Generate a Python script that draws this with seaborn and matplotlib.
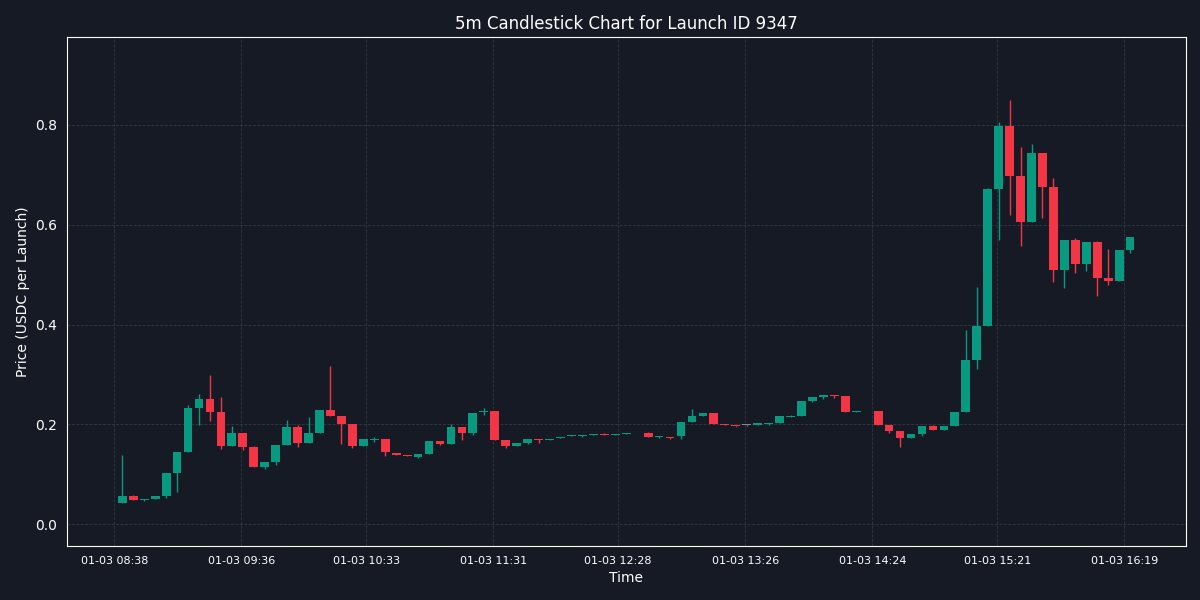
import numpy as np
import pandas as pd
import matplotlib
matplotlib.use("Agg")
import matplotlib.pyplot as plt
import matplotlib.dates as mdates
import seaborn as sns

slots = [i for i in range(93) if i not in (47, 68)]
opens = [.043,.056,.049,.051,.056,.103,.144,.232,.250,.225,.156,.182,.154,.115,.124,.158,.194,.162,.183,.228,
         .217,.200,.156,.168,.170,.143,.138,.135,.140,.166,.160,.195,.183,.224,.226,.168,.157,.163,.170,.168,
         .172,.177,.1760,.178,.181,.179,.180,.183,.175,.173,.176,.205,.216,.223,.200,.197,.198,.199,.200,.203,
         .214,.216,.246,.255,.259,.257,.225,.226,.198,.187,.173,.180,.196,.188,.196,.225,.329,.397,.672,.797,
         .698,.605,.744,.676,.509,.569,.522,.565,.494,.487,.549]
highs = [.138,.059,.050,.056,.103,.144,.238,.260,.299,.254,.196,.182,.157,.124,.158,.208,.198,.214,.228,.317,
         .217,.200,.170,.175,.170,.143,.138,.140,.166,.166,.200,.195,.223,.232,.226,.168,.163,.170,.170,.171,
         .175,.178,.178,.181,.182,.181,.182,.184,.176,.174,.205,.230,.223,.223,.200,.197,.199,.203,.203,.216,
         .218,.246,.255,.259,.259,.257,.226,.226,.198,.187,.180,.196,.198,.196,.225,.390,.475,.674,.807,.851,
         .755,.761,.744,.693,.569,.573,.565,.567,.551,.549,.576]
lows = [.043,.048,.046,.051,.053,.065,.144,.198,.207,.151,.156,.148,.115,.110,.119,.158,.155,.162,.183,.217,
        .161,.152,.156,.165,.136,.138,.136,.132,.140,.158,.160,.168,.178,.218,.168,.152,.157,.160,.162,.168,
        .172,.177,.174,.178,.179,.178,.180,.175,.172,.170,.170,.205,.216,.200,.199,.194,.197,.198,.199,.203,
        .214,.216,.244,.250,.253,.225,.224,.198,.183,.155,.173,.177,.188,.188,.196,.225,.311,.397,.569,.619,
        .558,.605,.613,.486,.473,.503,.508,.458,.480,.487,.543]
closes = [.056,.048,.050,.056,.103,.144,.232,.250,.225,.156,.182,.155,.115,.124,.158,.194,.162,.182,.228,.217,
          .200,.156,.170,.170,.144,.138,.136,.140,.166,.160,.195,.183,.223,.226,.168,.157,.163,.170,.168,.171,
          .175,.178,.1765,.181,.179,.180,.182,.175,.176,.172,.205,.216,.223,.200,.199,.196,.198,.203,.201,.216,
          .215,.246,.255,.259,.257,.225,.226,.198,.187,.173,.180,.196,.188,.196,.225,.329,.397,.672,.797,.698,
          .605,.744,.676,.509,.569,.522,.565,.494,.487,.549,.576]
tick_labels = ["01-03 08:38","01-03 09:36","01-03 10:33","01-03 11:31","01-03 12:28",
               "01-03 13:26","01-03 14:24","01-03 15:21","01-03 16:19"]

start = pd.Timestamp("2025-01-03 08:41:40")
times = [start + pd.Timedelta(minutes=5 * s) for s in slots]
df = pd.DataFrame({"time": times, "open": opens, "high": highs, "low": lows, "close": closes})

BG = "#161a25"
GREEN = "#089981"
RED = "#f23645"

sns.set_style("dark")
plt.rcParams["font.family"] = ["DejaVu Sans"]
fig, ax = plt.subplots(figsize=(12, 6), dpi=100)
fig.patch.set_facecolor(BG)
ax.set_facecolor(BG)

x = mdates.date2num(df["time"])
col = [GREEN if c > o else (RED if c < o else "#888888") for o, c in zip(df["open"], df["close"])]
ax.vlines(x, df["low"], df["high"], colors=col, linewidth=1, zorder=2)
bottom = np.minimum(df["open"], df["close"])
height = np.maximum(np.abs(df["close"] - df["open"]), 0.002)
ax.bar(x, height, bottom=bottom, width=4 / 1440, color=col, edgecolor=col, linewidth=0, zorder=3)

tick_times = [pd.Timestamp("2025-01-03 " + t.split(" ")[1]) for t in tick_labels]
ax.set_xticks(mdates.date2num(tick_times))
ax.set_xticklabels(tick_labels, fontsize=8, color="white")
ax.set_xlim(mdates.date2num(pd.Timestamp("2025-01-03 08:16:30")),
            mdates.date2num(pd.Timestamp("2025-01-03 16:47:00")))
ax.set_ylim(-0.044, 0.976)
ax.set_yticks([0.0, 0.2, 0.4, 0.6, 0.8])
ax.tick_params(axis="y", colors="white", labelsize=10)
ax.tick_params(axis="x", colors="white")
ax.grid(True, color="#3a3f4b", linestyle="--", linewidth=0.6, alpha=0.8)
for s in ax.spines.values():
    s.set_color("white")
    s.set_visible(True)
ax.set_title("5m Candlestick Chart for Launch ID 9347", color="white", fontsize=12)
ax.set_xlabel("Time", color="white", fontsize=10)
ax.set_ylabel("Price (USDC per Launch)", color="white", fontsize=10)
plt.subplots_adjust(left=0.056, right=0.988, top=0.938, bottom=0.09)
fig.savefig("out.png", facecolor=BG)
